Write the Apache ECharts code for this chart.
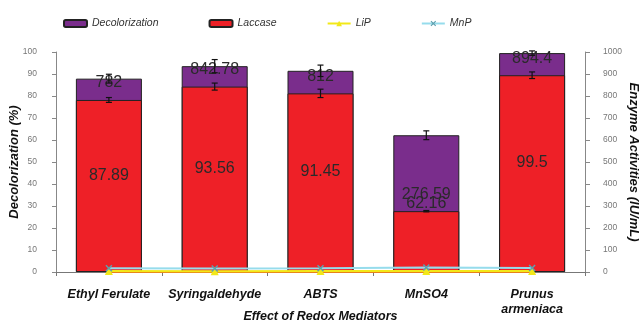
<!DOCTYPE html>
<html>
<head>
<meta charset="utf-8">
<script src="https://cdn.jsdelivr.net/npm/echarts@6/dist/echarts.min.js"></script>
<style>
html,body{margin:0;padding:0;background:#fff;}
#chart{width:640px;height:324px;}
</style>
</head>
<body>
<div id="chart"></div>
<script>
var categories = ['Ethyl Ferulate', 'Syringaldehyde', 'ABTS', 'MnSO4', 'Prunus\narmeniaca'];
var decolorization = [87.89, 93.56, 91.45, 62.16, 99.5];
var decolorizationErr = [2, 3, 2.6, 2, 1];
var laccase = [782, 842.78, 812, 276.59, 894.4];
var laccaseErr = [11, 16, 19, 3, 15];
var lip = [4, 3, 4, 5, 4];
var mnp = [17, 16, 17, 20, 18];
var leftTicks = {min: 0, max: 100, interval: 10};
var rightTicks = {min: 0, max: 1000, interval: 100};

var FONT = '"Liberation Sans", Arial, sans-serif';
var xMark = 'path://M0,1.5 L1.5,0 L5,3.5 L8.5,0 L10,1.5 L6.5,5 L10,8.5 L8.5,10 L5,6.5 L1.5,10 L0,8.5 L3.5,5 Z';

function errSeries(vals, errs, axisIdx) {
  return {
    type: 'custom',
    yAxisIndex: axisIdx,
    z: 5,
    silent: true,
    data: vals.map(function (v, i) { return [i, v, errs[i]]; }),
    renderItem: function (params, api) {
      var i = api.value(0), v = api.value(1), e = api.value(2);
      var hi = api.coord([i, v + e]);
      var lo = api.coord([i, v - e]);
      var x = hi[0], w = 3;
      var st = {stroke: '#111', lineWidth: 1.2};
      return {
        type: 'group',
        children: [
          {type: 'line', shape: {x1: x, y1: hi[1], x2: x, y2: lo[1]}, style: st},
          {type: 'line', shape: {x1: x - w, y1: hi[1], x2: x + w, y2: hi[1]}, style: st},
          {type: 'line', shape: {x1: x - w, y1: lo[1], x2: x + w, y2: lo[1]}, style: st}
        ]
      };
    }
  };
}

var chart = echarts.init(document.getElementById('chart'));
chart.setOption({
  animation: false,
  textStyle: {fontFamily: FONT},
  legend: {
    top: 13,
    left: 58,
    itemGap: 50,
    itemWidth: 23,
    itemHeight: 7,
    data: ['Decolorization', 'Laccase', 'LiP', 'MnP'],
    textStyle: {fontSize: 10.5, fontStyle: 'italic', color: '#333', fontFamily: FONT}
  },
  grid: {left: 56, right: 55, top: 52, bottom: 52, containLabel: false, outerBoundsMode: 'none'},
  xAxis: {
    type: 'category',
    data: categories,
    name: 'Effect of Redox Mediators',
    nameLocation: 'middle',
    nameMoveOverlap: false,
    nameGap: 38,
    nameTextStyle: {fontSize: 12.5, fontWeight: 'bold', fontStyle: 'italic', color: '#111'},
    axisLine: {lineStyle: {color: '#777', width: 1}},
    axisTick: {show: true, length: 4, lineStyle: {color: '#777'}},
    axisLabel: {
      margin: 15,
      fontSize: 12.5,
      fontWeight: 'bold',
      fontStyle: 'italic',
      color: '#111',
      lineHeight: 15,
      interval: 0
    }
  },
  yAxis: [
    {
      type: 'value',
      min: leftTicks.min, max: leftTicks.max, interval: leftTicks.interval,
      name: 'Decolorization (%)',
      nameLocation: 'middle',
      nameMoveOverlap: false,
      nameRotate: 90,
      nameGap: 35,
      nameTextStyle: {fontSize: 13, fontWeight: 'bold', fontStyle: 'italic', color: '#111'},
      axisLine: {show: true, lineStyle: {color: '#888'}},
      axisTick: {show: true, length: 4, lineStyle: {color: '#888'}},
      axisLabel: {fontSize: 8.5, color: '#777', margin: 19},
      splitLine: {show: false}
    },
    {
      type: 'value',
      position: 'right',
      min: rightTicks.min, max: rightTicks.max, interval: rightTicks.interval,
      name: 'Enzyme Activities (IU/mL)',
      nameLocation: 'middle',
      nameMoveOverlap: false,
      nameRotate: -90,
      nameGap: 42,
      nameTextStyle: {fontSize: 13, fontWeight: 'bold', fontStyle: 'italic', color: '#111'},
      axisLine: {show: true, lineStyle: {color: '#888'}},
      axisTick: {show: true, length: 5, lineStyle: {color: '#888'}},
      axisLabel: {fontSize: 8.5, color: '#777', margin: 18, formatter: function (v) { return String(v); }},
      splitLine: {show: false}
    }
  ],
  series: [
    {
      name: 'Decolorization',
      type: 'bar',
      yAxisIndex: 0,
      barWidth: 66,
      barGap: '-100%',
      data: decolorization,
      itemStyle: {color: '#7a2d8c', borderColor: '#222', borderWidth: 1},
      label: {show: true, position: 'inside', fontSize: 16, color: '#2a2a2a', fontFamily: FONT}
    },
    {
      name: 'Laccase',
      type: 'bar',
      yAxisIndex: 1,
      barWidth: 66,
      barGap: '-100%',
      data: laccase,
      itemStyle: {color: '#ee2027', borderColor: '#222', borderWidth: 1},
      label: {show: true, position: 'top', distance: 9, fontSize: 16, color: '#2a2a2a', fontFamily: FONT}
    },
    {
      name: 'LiP',
      type: 'line',
      yAxisIndex: 1,
      z: 4,
      data: lip,
      symbol: 'triangle',
      symbolSize: 8,
      itemStyle: {color: '#f2e818'},
      lineStyle: {color: '#f2e818', width: 2, shadowColor: '#e8801a', shadowOffsetY: 1.5, shadowBlur: 0}
    },
    {
      name: 'MnP',
      type: 'line',
      yAxisIndex: 1,
      z: 4,
      data: mnp,
      symbol: xMark,
      symbolSize: 7,
      itemStyle: {color: '#5f9fae'},
      lineStyle: {color: '#96dcec', width: 2}
    },
    errSeries(decolorization, decolorizationErr, 0),
    errSeries(laccase, laccaseErr, 1)
  ]
});
</script>
</body>
</html>
